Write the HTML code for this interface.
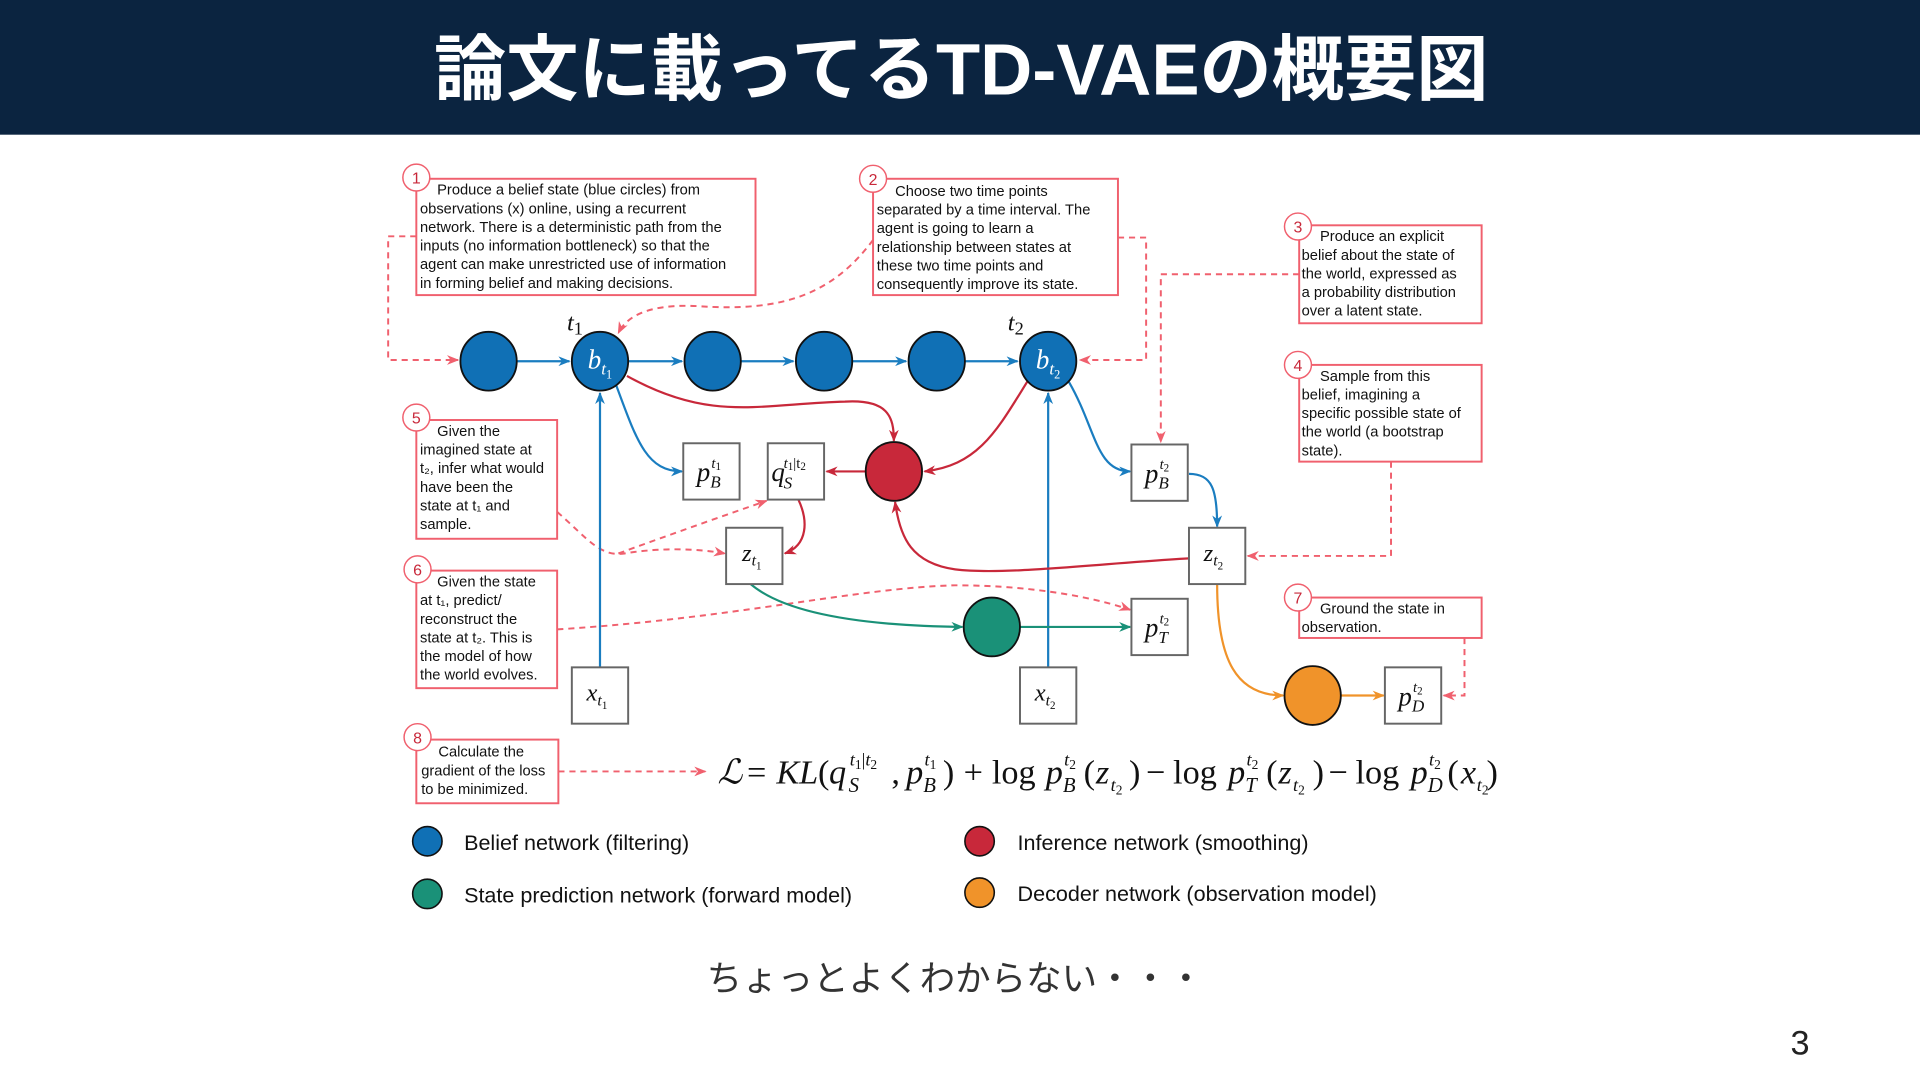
<!DOCTYPE html>
<html><head><meta charset="utf-8"><style>
html,body{margin:0;padding:0;background:#fff;}
svg{display:block;}
.ann{font-family:"Liberation Sans",sans-serif;font-size:12px;fill:#111;}
.num{font-family:"Liberation Sans",sans-serif;font-size:13px;fill:#c8283a;text-anchor:middle;}
.m{font-family:"Liberation Serif",serif;font-style:italic;fill:#111;}
.r{font-family:"Liberation Serif",serif;fill:#111;}
.leg{font-family:"Liberation Sans",sans-serif;font-size:17.6px;fill:#111;}
</style></head><body>
<svg width="1920" height="1080" viewBox="0 0 1568 882" xmlns="http://www.w3.org/2000/svg">
<defs>
<marker id="ab" markerWidth="10" markerHeight="8" refX="9" refY="4" orient="auto" markerUnits="userSpaceOnUse"><path d="M0,0 L10,4 L0,8 L3,4z" fill="#1a7dc0"/></marker>
<marker id="ar" markerWidth="10" markerHeight="8" refX="9" refY="4" orient="auto" markerUnits="userSpaceOnUse"><path d="M0,0 L10,4 L0,8 L3,4z" fill="#c8283a"/></marker>
<marker id="ag" markerWidth="10" markerHeight="8" refX="9" refY="4" orient="auto" markerUnits="userSpaceOnUse"><path d="M0,0 L10,4 L0,8 L3,4z" fill="#1a9178"/></marker>
<marker id="ao" markerWidth="10" markerHeight="8" refX="9" refY="4" orient="auto" markerUnits="userSpaceOnUse"><path d="M0,0 L10,4 L0,8 L3,4z" fill="#f0932a"/></marker>
<marker id="ap" markerWidth="10" markerHeight="8" refX="9" refY="4" orient="auto" markerUnits="userSpaceOnUse"><path d="M0,0 L10,4 L0,8 L3,4z" fill="#f0606e"/></marker>
</defs>
<rect x="0" y="0" width="1568" height="110" fill="#0b2440"/>
<text x="785" y="77" text-anchor="middle" font-family="'Liberation Sans','Noto Sans CJK JP',sans-serif" font-weight="bold" font-size="59" fill="#fff">論文に載ってるTD-VAEの概要図</text>

<g fill="none" stroke="#f0606e" stroke-width="1.6" stroke-dasharray="5,4">
<path d="M340,193 L317,193 L317,294 L374,294" marker-end="url(#ap)"/>
<path d="M713,196 C680,240 640,255 570,250 C530,248 512,258 505,272" marker-end="url(#ap)"/>
<path d="M913,194 L936,194 L936,294 L882,294" marker-end="url(#ap)"/>
<path d="M1061,224 L948,224 L948,361" marker-end="url(#ap)"/>
<path d="M1136,377 L1136,454 L1019,454" marker-end="url(#ap)"/>
<path d="M455,418 C480,440 490,455 510,452 C540,447 570,448 592,452" marker-end="url(#ap)"/>
<path d="M505,452 C560,432 600,418 626,409" marker-end="url(#ap)"/>
<path d="M455,514 C600,505 700,480 780,478 C850,478 900,490 923,498" marker-end="url(#ap)"/>
<path d="M1196,521 L1196,568 L1179,568" marker-end="url(#ap)"/>
<path d="M456,630 L576,630" marker-end="url(#ap)"/>
</g>

<g fill="none" stroke="#1a7dc0" stroke-width="1.8">
<path d="M422,295 L465,295" marker-end="url(#ab)"/>
<path d="M513,295 L557,295" marker-end="url(#ab)"/>
<path d="M605,295 L648,295" marker-end="url(#ab)"/>
<path d="M696,295 L740,295" marker-end="url(#ab)"/>
<path d="M788,295 L831,295" marker-end="url(#ab)"/>
<path d="M490,545 L490,321" marker-end="url(#ab)"/>
<path d="M856,545 L856,321" marker-end="url(#ab)"/>
<path d="M503,314 C520,360 528,385 557,385" marker-end="url(#ab)"/>
<path d="M873,312 C895,350 895,385 923,385" marker-end="url(#ab)"/>
<path d="M971,387 C990,387 994,400 994,430" marker-end="url(#ab)"/>
</g>
<g fill="none" stroke="#c8283a" stroke-width="1.8">
<path d="M512,307 C580,345 620,330 690,328 C725,326 730,340 730,360" marker-end="url(#ar)"/>
<path d="M840,310 C815,350 800,380 755,385" marker-end="url(#ar)"/>
<path d="M707,385 L675,385" marker-end="url(#ar)"/>
<path d="M652,408 C660,425 660,445 641,452" marker-end="url(#ar)"/>
<path d="M971,456 C900,460 820,470 780,465 C745,460 735,440 731,410" marker-end="url(#ar)"/>
</g>
<path d="M613,477 C640,500 700,511 786,512" fill="none" stroke="#1a9178" stroke-width="1.8" marker-end="url(#ag)"/>
<path d="M833,512 L923,512" fill="none" stroke="#1a9178" stroke-width="1.8" marker-end="url(#ag)"/>
<path d="M994,477 C994,540 1010,568 1048,568" fill="none" stroke="#f0932a" stroke-width="1.8" marker-end="url(#ao)"/>
<path d="M1095,568 L1130,568" fill="none" stroke="#f0932a" stroke-width="1.8" marker-end="url(#ao)"/>

<g stroke="#111" stroke-width="1.5">
<ellipse cx="399" cy="295" rx="23" ry="24" fill="#1070b5"/>
<ellipse cx="490" cy="295" rx="23" ry="24" fill="#1070b5"/>
<ellipse cx="582" cy="295" rx="23" ry="24" fill="#1070b5"/>
<ellipse cx="673" cy="295" rx="23" ry="24" fill="#1070b5"/>
<ellipse cx="765" cy="295" rx="23" ry="24" fill="#1070b5"/>
<ellipse cx="856" cy="295" rx="23" ry="24" fill="#1070b5"/>
<ellipse cx="730" cy="385" rx="23" ry="24" fill="#c8283a"/>
<ellipse cx="810" cy="512" rx="23" ry="24" fill="#1a9178"/>
<ellipse cx="1072" cy="568" rx="23" ry="24" fill="#f0932a"/>
</g>
<text class="m" x="480" y="301" font-size="22" style="fill:#fff">b<tspan font-size="14" dy="5">t</tspan><tspan font-size="10" dy="3" font-style="normal">1</tspan></text>
<text class="m" x="846" y="301" font-size="22" style="fill:#fff">b<tspan font-size="14" dy="5">t</tspan><tspan font-size="10" dy="3" font-style="normal">2</tspan></text>
<text class="m" x="463" y="270" font-size="20">t<tspan font-size="15" font-style="normal" dy="3">1</tspan></text>
<text class="m" x="823" y="270" font-size="20">t<tspan font-size="15" font-style="normal" dy="3">2</tspan></text>

<g fill="#fff" stroke="#666" stroke-width="1.6">
<rect x="558" y="362" width="46" height="46"/>
<rect x="627" y="362" width="46" height="46"/>
<rect x="593" y="431" width="46" height="46"/>
<rect x="467" y="545" width="46" height="46"/>
<rect x="833" y="545" width="46" height="46"/>
<rect x="924" y="363" width="46" height="46"/>
<rect x="971" y="431" width="46" height="46"/>
<rect x="924" y="489" width="46" height="46"/>
<rect x="1131" y="545" width="46" height="46"/>
</g>
<g class="m">
<text x="569" y="393" font-size="22">p</text><text x="581" y="382" font-size="12">t<tspan font-size="9" font-style="normal" dy="2">1</tspan></text><text x="580" y="398" font-size="14">B</text>
<text x="630" y="393" font-size="22">q</text><text x="640" y="382" font-size="12">t<tspan font-size="9" font-style="normal" dy="2">1</tspan><tspan font-style="normal" dy="-2">|t</tspan><tspan font-size="9" font-style="normal" dy="2">2</tspan></text><text x="640" y="399" font-size="14">S</text>
<text x="606" y="458" font-size="20">z<tspan font-size="13" dy="4">t</tspan><tspan font-size="9" font-style="normal" dy="3">1</tspan></text>
<text x="479" y="572" font-size="20">x<tspan font-size="13" dy="4">t</tspan><tspan font-size="9" font-style="normal" dy="3">1</tspan></text>
<text x="845" y="572" font-size="20">x<tspan font-size="13" dy="4">t</tspan><tspan font-size="9" font-style="normal" dy="3">2</tspan></text>
<text x="983" y="458" font-size="20">z<tspan font-size="13" dy="4">t</tspan><tspan font-size="9" font-style="normal" dy="3">2</tspan></text>
<text x="935" y="394" font-size="22">p</text><text x="947" y="383" font-size="12">t<tspan font-size="9" font-style="normal" dy="2">2</tspan></text><text x="946" y="399" font-size="14">B</text>
<text x="935" y="520" font-size="22">p</text><text x="947" y="509" font-size="12">t<tspan font-size="9" font-style="normal" dy="2">2</tspan></text><text x="946" y="525" font-size="14">T</text>
<text x="1142" y="576" font-size="22">p</text><text x="1154" y="565" font-size="12">t<tspan font-size="9" font-style="normal" dy="2">2</tspan></text><text x="1153" y="581" font-size="14">D</text>
</g>

<g fill="#fff" stroke="#f0606e" stroke-width="1.6">
<rect x="340" y="146" width="277" height="95"/>
<rect x="713" y="146" width="200" height="95"/>
<rect x="1061" y="184" width="149" height="80"/>
<rect x="1061" y="298" width="149" height="79"/>
<rect x="340" y="343" width="115" height="97"/>
<rect x="340" y="466" width="115" height="96"/>
<rect x="1061" y="488" width="149" height="33"/>
<rect x="340" y="604" width="116" height="52"/>
</g>
<g fill="#fff" stroke="#f0606e" stroke-width="1.2">
<circle cx="340" cy="145" r="11"/><circle cx="713" cy="146" r="11"/><circle cx="1060" cy="185" r="11"/><circle cx="1060" cy="298" r="11"/>
<circle cx="340" cy="341" r="11"/><circle cx="341" cy="465" r="11"/><circle cx="1060" cy="488" r="11"/><circle cx="341" cy="602" r="11"/>
</g>
<g class="num"><text x="340" y="150">1</text><text x="713" y="151">2</text><text x="1060" y="190">3</text><text x="1060" y="303">4</text><text x="340" y="346">5</text><text x="341" y="470">6</text><text x="1060" y="493">7</text><text x="341" y="607">8</text></g>
<g class="ann">
<text y="159"><tspan x="357">Produce a belief state (blue circles) from</tspan><tspan x="343" dy="15.2">observations (x) online, using a recurrent</tspan><tspan x="343" dy="15.2">network. There is a deterministic path from the</tspan><tspan x="343" dy="15.2">inputs (no information bottleneck) so that the</tspan><tspan x="343" dy="15.2">agent can make unrestricted use of information</tspan><tspan x="343" dy="15.2">in forming belief and making decisions.</tspan></text>
<text y="160"><tspan x="731">Choose two time points</tspan><tspan x="716" dy="15.2">separated by a time interval. The</tspan><tspan x="716" dy="15.2">agent is going to learn a</tspan><tspan x="716" dy="15.2">relationship between states at</tspan><tspan x="716" dy="15.2">these two time points and</tspan><tspan x="716" dy="15.2">consequently improve its state.</tspan></text>
<text y="197"><tspan x="1078">Produce an explicit</tspan><tspan x="1063" dy="15.2">belief about the state of</tspan><tspan x="1063" dy="15.2">the world, expressed as</tspan><tspan x="1063" dy="15.2">a probability distribution</tspan><tspan x="1063" dy="15.2">over a latent state.</tspan></text>
<text y="311"><tspan x="1078">Sample from this</tspan><tspan x="1063" dy="15.2">belief, imagining a</tspan><tspan x="1063" dy="15.2">specific possible state of</tspan><tspan x="1063" dy="15.2">the world (a bootstrap</tspan><tspan x="1063" dy="15.2">state).</tspan></text>
<text y="356"><tspan x="357">Given the</tspan><tspan x="343" dy="15.2">imagined state at</tspan><tspan x="343" dy="15.2">t₂, infer what would</tspan><tspan x="343" dy="15.2">have been the</tspan><tspan x="343" dy="15.2">state at t₁ and</tspan><tspan x="343" dy="15.2">sample.</tspan></text>
<text y="479"><tspan x="357">Given the state</tspan><tspan x="343" dy="15.2">at t₁, predict/</tspan><tspan x="343" dy="15.2">reconstruct the</tspan><tspan x="343" dy="15.2">state at t₂. This is</tspan><tspan x="343" dy="15.2">the model of how</tspan><tspan x="343" dy="15.2">the world evolves.</tspan></text>
<text y="501"><tspan x="1078">Ground the state in</tspan><tspan x="1063" dy="15.2">observation.</tspan></text>
<text y="618"><tspan x="358">Calculate the</tspan><tspan x="344" dy="15.2">gradient of the loss</tspan><tspan x="344" dy="15.2">to be minimized.</tspan></text>
</g>

<g font-size="28">
<text class="m" x="586" y="640">ℒ</text>
<text class="r" x="610" y="640">=</text>
<text class="m" x="634" y="640">KL</text>
<text class="r" x="668" y="640">(</text>
<text class="m" x="677" y="640">q</text>
<text class="m" x="694" y="625" font-size="15">t<tspan font-size="11" font-style="normal" dy="3">1</tspan><tspan font-size="15" font-style="normal" dy="-3">|</tspan>t<tspan font-size="11" font-style="normal" dy="3">2</tspan></text>
<text class="m" x="693" y="647" font-size="17">S</text>
<text class="r" x="728" y="640">,</text>
<text class="m" x="740" y="640">p</text>
<text class="m" x="755" y="625" font-size="15">t<tspan font-size="11" font-style="normal" dy="3">1</tspan></text>
<text class="m" x="754" y="647" font-size="17">B</text>
<text class="r" x="770" y="640">)</text>
<text class="r" x="787" y="640">+</text>
<text class="r" x="810" y="640">log</text>
<text class="m" x="854" y="640">p</text>
<text class="m" x="869" y="625" font-size="15">t<tspan font-size="11" font-style="normal" dy="3">2</tspan></text>
<text class="m" x="868" y="647" font-size="17">B</text>
<text class="r" x="885" y="640">(</text>
<text class="m" x="895" y="640">z</text>
<text class="m" x="907" y="646" font-size="15">t<tspan font-size="11" font-style="normal" dy="3">2</tspan></text>
<text class="r" x="922" y="640">)</text>
<text class="r" x="936" y="640">−</text>
<text class="r" x="958" y="640">log</text>
<text class="m" x="1003" y="640">p</text>
<text class="m" x="1018" y="625" font-size="15">t<tspan font-size="11" font-style="normal" dy="3">2</tspan></text>
<text class="m" x="1017" y="647" font-size="17">T</text>
<text class="r" x="1034" y="640">(</text>
<text class="m" x="1044" y="640">z</text>
<text class="m" x="1056" y="646" font-size="15">t<tspan font-size="11" font-style="normal" dy="3">2</tspan></text>
<text class="r" x="1072" y="640">)</text>
<text class="r" x="1085" y="640">−</text>
<text class="r" x="1107" y="640">log</text>
<text class="m" x="1152" y="640">p</text>
<text class="m" x="1167" y="625" font-size="15">t<tspan font-size="11" font-style="normal" dy="3">2</tspan></text>
<text class="m" x="1166" y="647" font-size="17">D</text>
<text class="r" x="1182" y="640">(</text>
<text class="m" x="1193" y="640">x</text>
<text class="m" x="1206" y="646" font-size="15">t<tspan font-size="11" font-style="normal" dy="3">2</tspan></text>
<text class="r" x="1214" y="640">)</text>
</g>

<g stroke="#111" stroke-width="1.3">
<ellipse cx="349" cy="687" rx="12" ry="12" fill="#1070b5"/>
<ellipse cx="349" cy="730" rx="12" ry="12" fill="#1a9178"/>
<ellipse cx="800" cy="687" rx="12" ry="12" fill="#c8283a"/>
<ellipse cx="800" cy="729" rx="12" ry="12" fill="#f0932a"/>
</g>
<g class="leg">
<text x="379" y="694">Belief network (filtering)</text>
<text x="379" y="737">State prediction network (forward model)</text>
<text x="831" y="694">Inference network (smoothing)</text>
<text x="831" y="736">Decoder network (observation model)</text>
</g>

<text x="780" y="809" text-anchor="middle" font-family="'Liberation Sans','Noto Sans CJK JP',sans-serif" font-size="29" fill="#333">ちょっとよくわからない・・・</text>
<text x="1470" y="861" text-anchor="middle" font-family="'Liberation Sans',sans-serif" font-size="28" fill="#222">3</text>
</svg>
</body></html>
